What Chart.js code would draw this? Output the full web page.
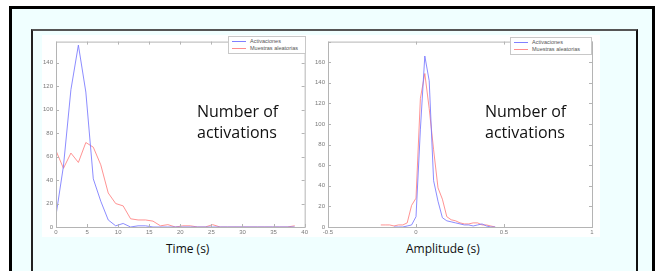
<!DOCTYPE html>
<html>
<head>
<meta charset="utf-8">
<script src="https://cdn.jsdelivr.net/npm/chart.js@4.4.1/dist/chart.umd.min.js"></script>
<style>
  body { margin: 0; width: 658px; height: 271px; background: #fff; position: relative; overflow: hidden; font-family: "Open Sans", sans-serif; }
  #outer { position: absolute; left: 9px; top: 6px; width: 640px; height: 275px; border: 3px solid #000; background: #f0ffff; }
  #inner { position: absolute; left: 31px; top: 29px; width: 603px; height: 260px; border-top: 2px solid #555; border-left: 2px solid #222; border-right: 2px solid #111; }
  .plot { position: absolute; background: #fff; }
  .legend { position: absolute; background: #fff; border: 1px solid #c8c8c8; font: 5.5px "Liberation Sans", sans-serif; color: #555; line-height: 7px; padding: 1px 2px 1px 3px; }
  .legend span { display: inline-block; width: 14px; height: 1px; vertical-align: middle; margin-right: 4px; }
  .big { position: absolute; font-size: 16px; line-height: 21px; color: #111; }
  .axlabel { position: absolute; font-size: 12px; color: #111; }
</style>
</head>
<body>
<div id="outer"></div>
<div id="inner"></div>

<canvas id="timeChart" class="plot" width="268" height="202" style="left:42px;top:35px"></canvas>
<canvas id="ampChart" class="plot" width="290" height="202" style="left:310px;top:35px"></canvas>

<div class="legend" style="left:228px;top:36px;width:71px">
  <div><span style="background:#8080ff"></span>Activaciones</div>
  <div><span style="background:#ff8c8c"></span>Muestras aleatorias</div>
</div>
<div class="legend" style="left:510px;top:37px;width:75px">
  <div><span style="background:#8080ff"></span>Activaciones</div>
  <div><span style="background:#ff8c8c"></span>Muestras aleatorias</div>
</div>

<div class="big" style="left:197px;top:101px">Number of<br>activations</div>
<div class="big" style="left:485px;top:101px">Number of<br>activations</div>
<div class="axlabel" style="left:166px;top:240px">Time (s)</div>
<div class="axlabel" style="left:406px;top:240px">Amplitude (s)</div>

<script>
// histograma de tiempos (s)
var timeBins = [0, 1.2, 2.4, 3.6, 4.8, 6.0, 7.2, 8.4, 9.6, 10.8, 12.0, 13.2, 14.4, 15.6, 16.8, 18.0, 19.2, 20.4, 21.6, 22.8, 24.0, 25.2, 26.4, 27.6, 28.8, 30.0, 31.2, 32.4, 33.6, 34.8, 36.0, 37.2, 38.4];
var timeAct  = [10, 52, 117, 155, 115, 41, 22, 6, 1, 3, 0, 1, 1, 0, 0, 0, 0, 0, 0, 0, 0, 0, 0, 0, 0, 0, 0, 0, 0, 0, 0, 0, 0];
var timeRand = [65, 50, 63, 55, 72, 68, 53, 29, 20, 18, 7, 6, 6, 5, 1, 2, 0, 1, 1, 0, 0, 2, 0, 0, 0, 0, 0, 0, 0, 0, 0, 0, 1];
var timeTicks = [0, 5, 10, 15, 20, 25, 30, 35, 40];

// histograma de amplitudes
var ampBins = [-0.2, -0.175, -0.15, -0.125, -0.1, -0.075, -0.05, -0.025, 0, 0.025, 0.05, 0.075, 0.1, 0.125, 0.15, 0.175, 0.2, 0.225, 0.25, 0.275, 0.3, 0.325, 0.35, 0.375, 0.4, 0.425, 0.45];
var ampAct  = [null, null, null, 0, 0, 0, 1, 2, 10, 95, 166, 142, 45, 25, 9, 6, 5, 4, 3, 2, 2, 1, 2, 3, 1, 0, 0];
var ampRand = [2, 2, 2, 1, 2, 2, 4, 21, 28, 125, 149, 115, 75, 38, 27, 10, 7, 6, 4, 3, 3, 4, 4, 2, 2, 1, 0];
var ampTicks = [-0.5, 0, 0.5, 1];

var labels = ['Activaciones', 'Muestras aleatorias'];
var blue = 'rgba(120,120,255,0.85)';
var red = 'rgba(255,128,128,0.85)';

function pts(xs, ys) {
  var out = [];
  for (var i = 0; i < xs.length; i++) {
    if (ys[i] !== null) out.push({x: xs[i], y: ys[i]});
  }
  return out;
}

// caja estilo matlab con marcas hacia dentro
var boxPlugin = {
  id: 'box',
  afterDraw: function(chart) {
    var c = chart.ctx, a = chart.chartArea;
    var sx = chart.scales.x, sy = chart.scales.y;
    c.save();
    c.strokeStyle = '#b4b4b4';
    c.lineWidth = 1;
    c.strokeRect(a.left + 0.5, a.top + 0.5, a.right - a.left, a.bottom - a.top);
    c.beginPath();
    sx.ticks.forEach(function(t) {
      var px = Math.round(sx.getPixelForValue(t.value)) + 0.5;
      c.moveTo(px, a.bottom); c.lineTo(px, a.bottom - 3);
      c.moveTo(px, a.top); c.lineTo(px, a.top + 3);
    });
    sy.ticks.forEach(function(t) {
      if (t.value % 20 !== 0) return;
      var py = Math.round(sy.getPixelForValue(t.value)) + 0.5;
      c.moveTo(a.left, py); c.lineTo(a.left + 3, py);
      c.moveTo(a.right, py); c.lineTo(a.right - 3, py);
    });
    c.stroke();
    c.restore();
  }
};

function makeChart(id, xs, act, rand, xmin, xmax, xticks, ymax, ylabelMax, yw, rightPad) {
  return new Chart(document.getElementById(id), {
    type: 'line',
    data: {
      datasets: [
        { label: labels[0], data: pts(xs, act), borderColor: blue, borderWidth: 1, pointRadius: 0, tension: 0 },
        { label: labels[1], data: pts(xs, rand), borderColor: red, borderWidth: 1, pointRadius: 0, tension: 0 }
      ]
    },
    options: {
      responsive: false,
      animation: false,
      layout: { padding: { top: 0, right: rightPad, left: 0, bottom: 0 } },
      plugins: { legend: { display: false }, tooltip: { enabled: false } },
      scales: {
        x: {
          type: 'linear', min: xmin, max: xmax,
          afterBuildTicks: function(s) { s.ticks = xticks.map(function(v) { return {value: v}; }); },
          afterFit: function(s) { s.height = 10; },
          grid: { display: false, drawTicks: false },
          border: { display: false },
          ticks: { color: '#7a7a7a', font: { size: 6, family: 'Liberation Sans' }, padding: 2, maxRotation: 0,
                   callback: function(v) { return String(v); } }
        },
        y: {
          min: 0, max: ymax,
          afterFit: function(s) { s.width = yw; },
          grid: { display: false, drawTicks: false },
          border: { display: false },
          ticks: { stepSize: 20, color: '#7a7a7a', font: { size: 6, family: 'Liberation Sans' }, padding: 3,
                   callback: function(v) { return (v % 20 === 0 && v <= ylabelMax) ? String(v) : ''; } }
        }
      }
    },
    plugins: [boxPlugin]
  });
}

makeChart('timeChart', timeBins, timeAct, timeRand, 0, 40, timeTicks, 158, 140, 14, 5);
makeChart('ampChart', ampBins, ampAct, ampRand, -0.5, 1, ampTicks, 180, 160, 18, 8);
</script>
</body>
</html>
